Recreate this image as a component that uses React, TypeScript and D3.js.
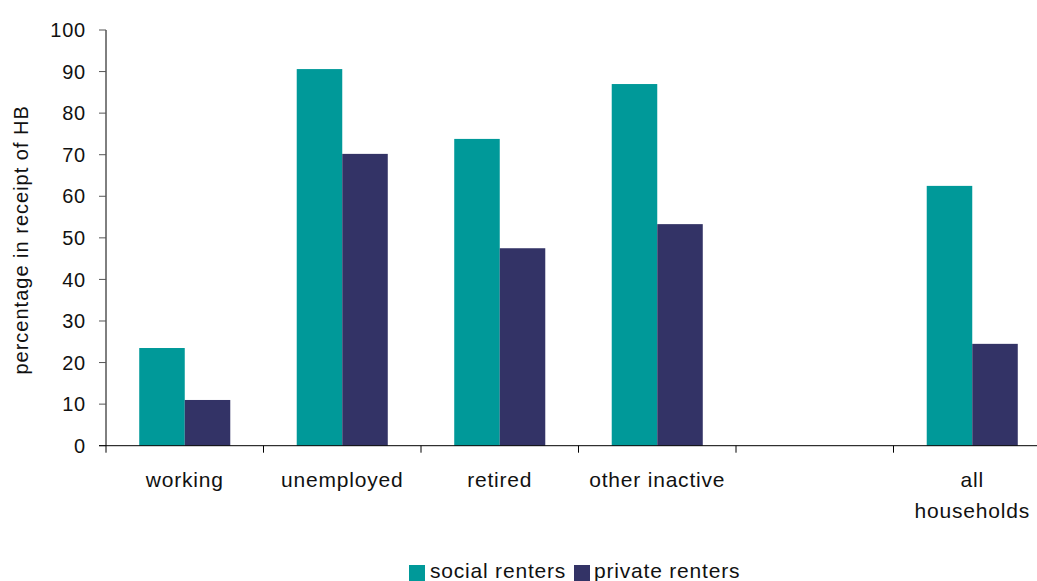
import React from "react";
import * as d3 from "d3";

const categories = ["working", "unemployed", "retired", "other inactive", "", "all households"];
const categoryLines = [["working"], ["unemployed"], ["retired"], ["other inactive"], [], ["all", "households"]];
const socialRenters: (number | null)[] = [23.5, 90.6, 73.8, 87.0, null, 62.5];
const privateRenters: (number | null)[] = [11.0, 70.2, 47.5, 53.3, null, 24.5];
const seriesNames = ["social renters", "private renters"];
const seriesColors = ["#009999", "#333366"];
const yTicks = [0, 10, 20, 30, 40, 50, 60, 70, 80, 90, 100];

const W = 1037;
const H = 581;
const FONT = "'Liberation Sans', Arial, sans-serif";

export default function App() {
  const left = 106;
  const right = 1051;
  const top = 30;
  const bottom = 445.7;
  const keys = categories.map((c, i) => (c === "" ? `blank${i}` : c));
  const x = d3.scaleBand<string>().domain(keys).range([left, right]).paddingInner(0).paddingOuter(0);
  const bw = x.bandwidth();
  const inner = d3.scaleBand<string>().domain(seriesNames).range([0, bw]).paddingInner(0).paddingOuter(0.73);
  const y = d3.scaleLinear().domain([0, 100]).range([bottom, top]);
  const series = [socialRenters, privateRenters];

  return (
    <svg width={W} height={H} style={{ position: "absolute", left: 0, top: 0, background: "#fff" }} fontFamily={FONT}>
      {/* bars */}
      {series.map((vals, si) =>
        vals.map((v, ci) =>
          v == null ? null : (
            <rect
              key={`${si}-${ci}`}
              x={(x(keys[ci]) as number) + (inner(seriesNames[si]) as number)}
              y={y(v)}
              width={inner.bandwidth()}
              height={y(0) - y(v)}
              fill={seriesColors[si]}
            />
          )
        )
      )}
      {/* y axis */}
      <line x1={left} x2={left} y1={top} y2={bottom} stroke="#000" strokeWidth={1} />
      {yTicks.map((t) => (
        <g key={t}>
          <line x1={left - 7} x2={left} y1={y(t)} y2={y(t)} stroke="#555" strokeWidth={1} />
          <text x={86} y={y(t)} dy="0.36em" textAnchor="end" fontSize={20} letterSpacing={0.8} fill="#111">
            {t}
          </text>
        </g>
      ))}
      <text
        transform={`translate(28,${(top + bottom) / 2 + 2}) rotate(-90)`}
        textAnchor="middle"
        fontSize={20}
        letterSpacing={1}
        fill="#111"
      >
        percentage in receipt of HB
      </text>
      {/* x axis */}
      <line x1={left - 7} x2={right} y1={bottom} y2={bottom} stroke="#000" strokeWidth={1} />
      {keys.map((k) => (
        <line key={k} x1={x(k) as number} x2={x(k) as number} y1={bottom} y2={bottom + 7} stroke="#000" strokeWidth={1} />
      ))}
      {keys.map((k, i) => (
        <text key={`l${k}`} x={(x(k) as number) + bw / 2} y={487} textAnchor="middle" fontSize={21} letterSpacing={0.8} fill="#111">
          {categoryLines[i].map((line, li) => (
            <tspan key={li} x={(x(k) as number) + bw / 2} dy={li === 0 ? 0 : 31}>
              {line}
            </tspan>
          ))}
        </text>
      ))}
      {/* legend */}
      <rect x={409} y={565} width={16} height={16} fill={seriesColors[0]} />
      <text x={430} y={578} fontSize={21} letterSpacing={0.8} fill="#111">{seriesNames[0]}</text>
      <rect x={574} y={565} width={16} height={16} fill={seriesColors[1]} />
      <text x={594} y={578} fontSize={21} letterSpacing={0.8} fill="#111">{seriesNames[1]}</text>
    </svg>
  );
}
